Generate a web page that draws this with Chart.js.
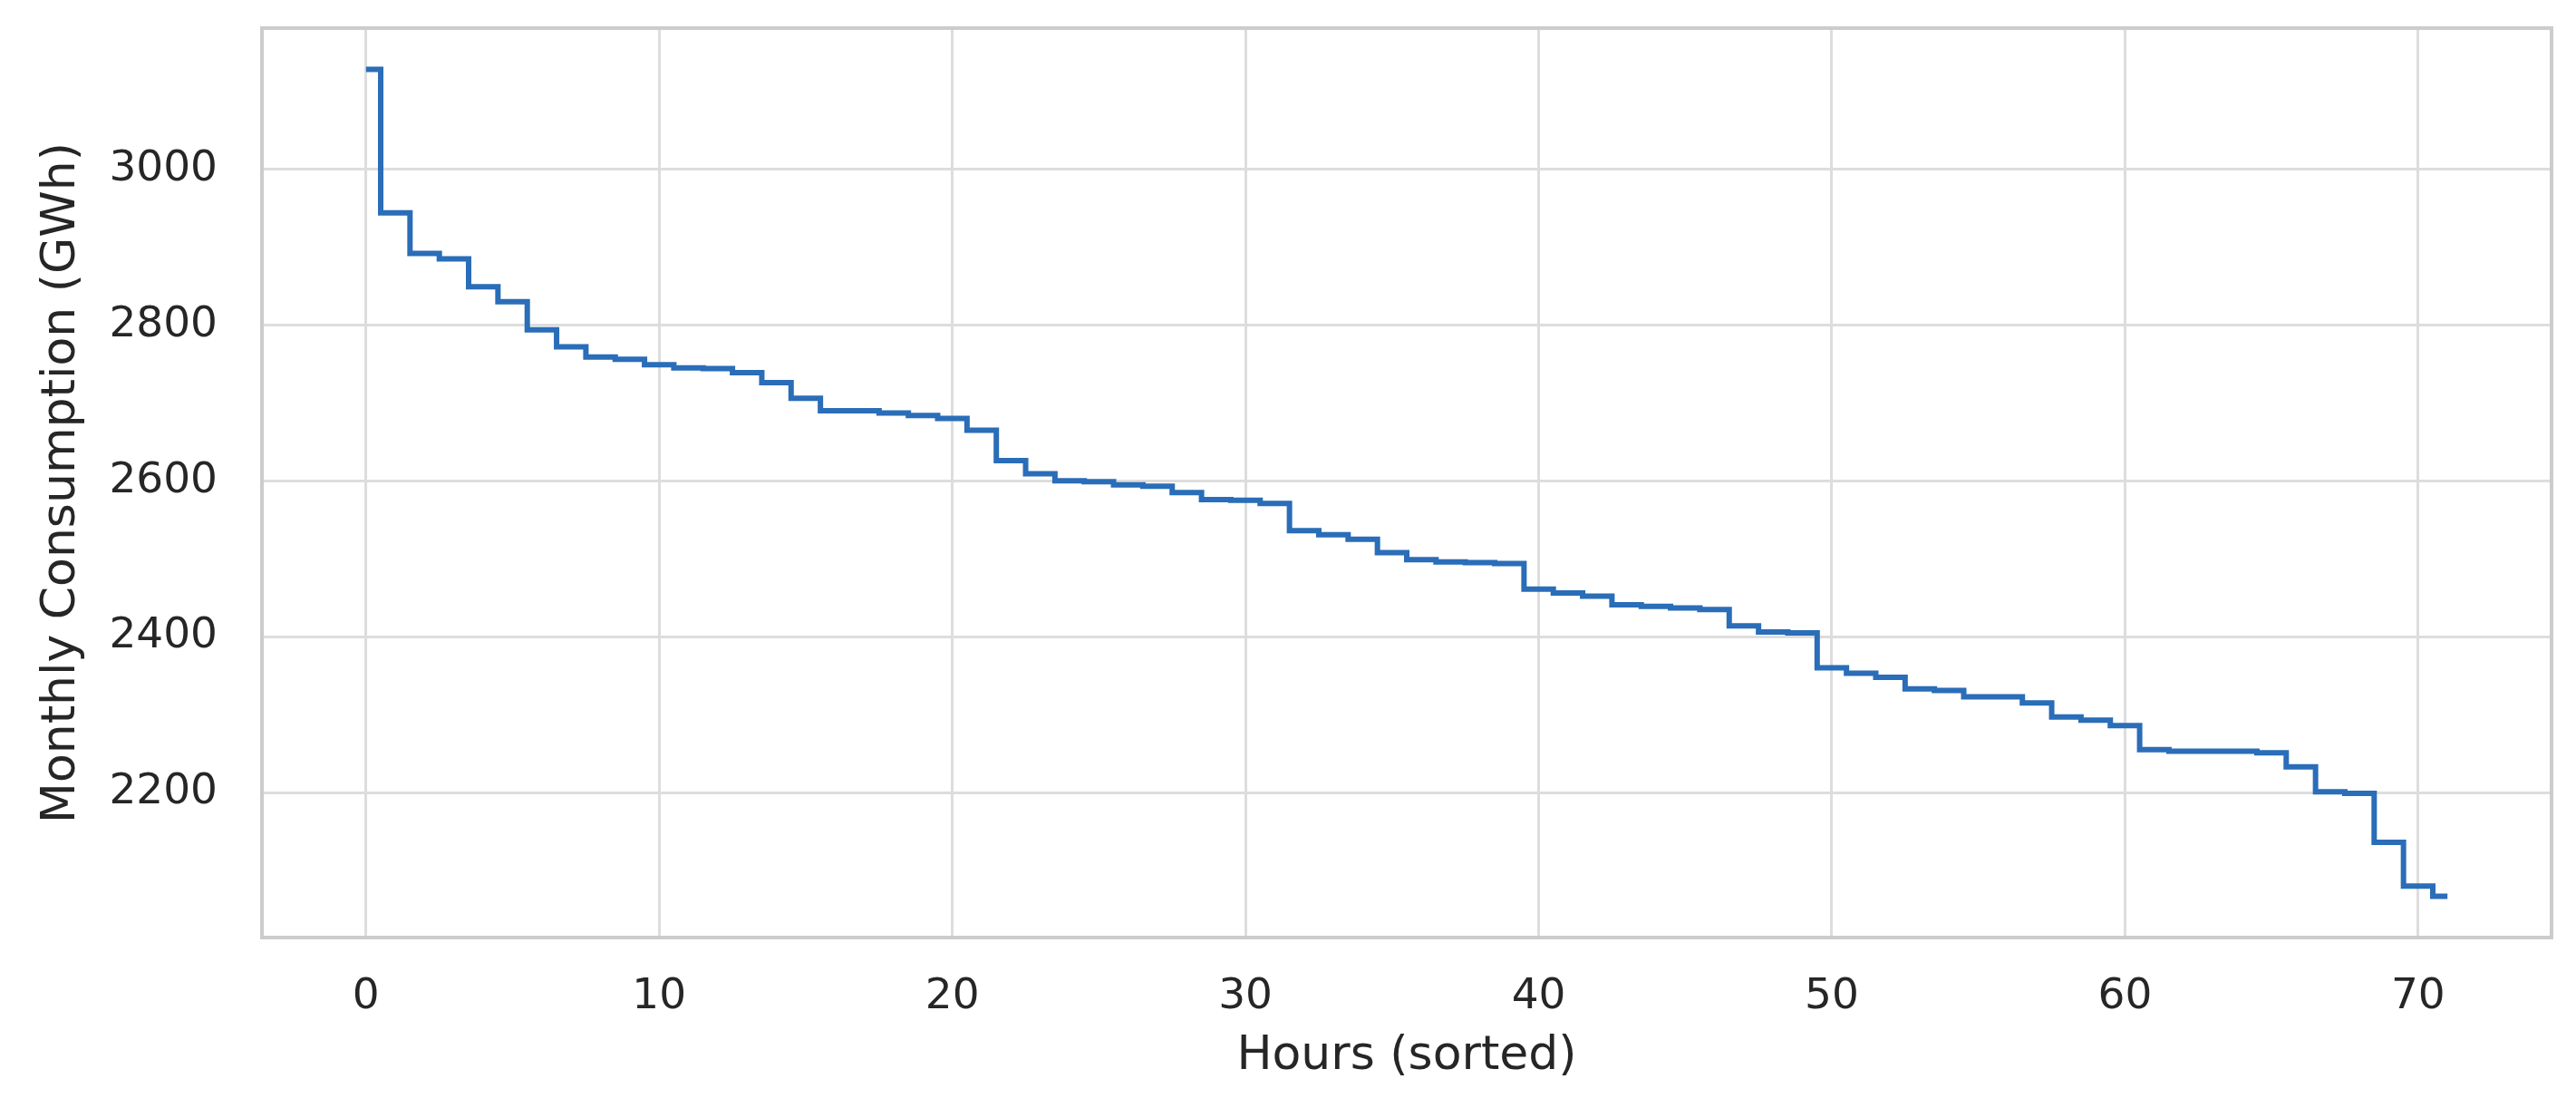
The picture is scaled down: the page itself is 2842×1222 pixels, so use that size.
<!DOCTYPE html>
<html>
<head>
<meta charset="utf-8">
<script src="https://cdn.jsdelivr.net/npm/chart.js@4.4.1/dist/chart.umd.min.js"></script>
<style>
  html, body { margin: 0; padding: 0; background: #ffffff; }
  #wrap { width: 2842px; height: 1222px; }
</style>
</head>
<body>
<div id="wrap"><canvas id="durationChart" width="2842" height="1222"></canvas></div>
<script>
(function() {
    'use strict';

    // Data
    const hours = [
        0, 1, 2, 3, 4, 5, 6, 7, 8, 9, 10, 11, 12, 13, 14, 15, 16, 17,
        18, 19, 20, 21, 22, 23, 24, 25, 26, 27, 28, 29, 30, 31, 32, 33, 34, 35,
        36, 37, 38, 39, 40, 41, 42, 43, 44, 45, 46, 47, 48, 49, 50, 51, 52, 53,
        54, 55, 56, 57, 58, 59, 60, 61, 62, 63, 64, 65, 66, 67, 68, 69, 70, 71
    ];
    const consumption = [
        3128, 2944, 2892, 2885, 2849, 2830, 2794, 2772, 2759, 2756, 2749, 2745, 2744, 2739, 2726, 2706, 2690, 2690,
        2687, 2684, 2680, 2665, 2626, 2609, 2600, 2599, 2595, 2593, 2585, 2576, 2575, 2571, 2536, 2531, 2525, 2508,
        2499, 2496, 2495, 2494, 2461, 2456, 2452, 2441, 2439, 2437, 2435, 2414, 2406, 2405, 2360, 2353, 2348, 2333,
        2331, 2323, 2323, 2315, 2297, 2293, 2286, 2255, 2253, 2253, 2253, 2251, 2233, 2201, 2199, 2136, 2080, 2067
    ];
    const xTicks = [0, 10, 20, 30, 40, 50, 60, 70];
    const yTicks = [2200, 2400, 2600, 2800, 3000];

    // matplotlib-style 5% margins
    const xSpan = hours[hours.length - 1] - hours[0];
    const yLo = Math.min.apply(null, consumption);
    const yHi = Math.max.apply(null, consumption);
    const ySpan = yHi - yLo;

    const FONT = "'DejaVu Sans', sans-serif";
    const TEXT = '#262626';
    const GRID = '#dddddd';

    // Frame around the plot area (seaborn whitegrid spines)
    const framePlugin = {
        id: 'frame',
        afterDraw(chart) {
            const a = chart.chartArea;
            const ctx = chart.ctx;
            ctx.save();
            ctx.strokeStyle = '#cccccc';
            ctx.lineWidth = 4;
            ctx.strokeRect(a.left, a.top, a.right - a.left, a.bottom - a.top);
            ctx.restore();
        }
    };

    const ctx = document.getElementById('durationChart').getContext('2d');

    new Chart(ctx, {
        type: 'line',
        data: {
            datasets: [{
                data: hours.map((h, i) => ({ x: h, y: consumption[i] })),
                borderColor: '#2a6db8',
                borderWidth: 6,
                pointRadius: 0,
                fill: false,
                stepped: 'middle'
            }]
        },
        options: {
            responsive: false,
            animation: false,
            devicePixelRatio: 1,
            layout: {
                padding: { left: 0, top: 31, right: 27, bottom: 0 }
            },
            plugins: {
                legend: { display: false },
                tooltip: { enabled: false }
            },
            scales: {
                x: {
                    type: 'linear',
                    min: hours[0] - xSpan * 0.05,
                    max: hours[hours.length - 1] + xSpan * 0.05,
                    afterBuildTicks: function(scale) {
                        scale.ticks = xTicks.map(v => ({ value: v }));
                    },
                    afterFit: function(scale) {
                        scale.height = 188;
                    },
                    grid: { color: GRID, lineWidth: 3, drawTicks: false },
                    border: { display: false },
                    ticks: {
                        padding: 38,
                        autoSkip: false,
                        maxRotation: 0,
                        color: TEXT,
                        font: { family: FONT, size: 47 },
                        callback: v => String(v)
                    },
                    title: {
                        display: true,
                        text: 'Hours (sorted)',
                        color: TEXT,
                        font: { family: FONT, size: 52 },
                        padding: { top: 0, bottom: 25 }
                    }
                },
                y: {
                    min: yLo - ySpan * 0.05,
                    max: yHi + ySpan * 0.05,
                    afterBuildTicks: function(scale) {
                        scale.ticks = yTicks.map(v => ({ value: v }));
                    },
                    afterFit: function(scale) {
                        scale.width = 289;
                        scale.paddingTop = 0;
                        scale.paddingBottom = 0;
                    },
                    grid: { color: GRID, lineWidth: 3, drawTicks: false },
                    border: { display: false },
                    ticks: {
                        padding: 49,
                        autoSkip: false,
                        color: TEXT,
                        font: { family: FONT, size: 47 },
                        callback: v => String(v)
                    },
                    title: {
                        display: true,
                        text: 'Monthly Consumption (GWh)',
                        color: TEXT,
                        font: { family: FONT, size: 52 },
                        padding: { top: 37, bottom: 0 }
                    }
                }
            }
        },
        plugins: [framePlugin]
    });

})();
</script>
</body>
</html>
